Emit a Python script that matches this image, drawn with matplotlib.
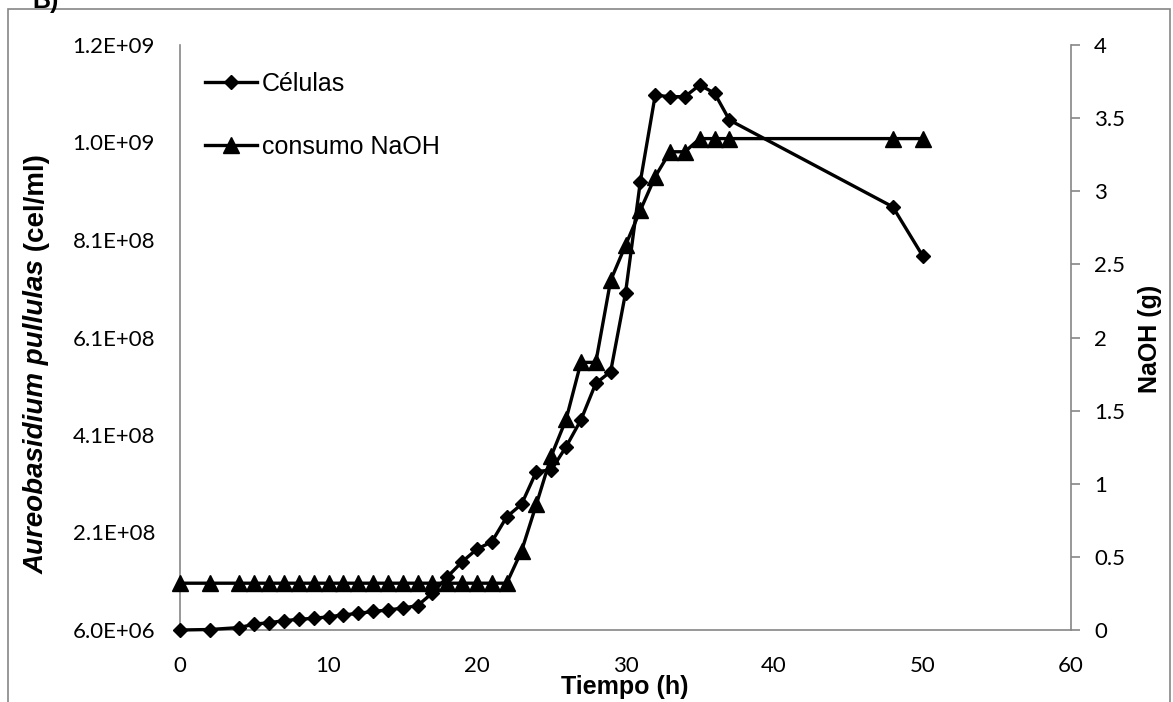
import matplotlib
matplotlib.use("Agg")
import matplotlib.pyplot as plt
from matplotlib.ticker import FixedLocator, FuncFormatter, MultipleLocator
from matplotlib.patches import Rectangle

W, H, DPI = 1173, 702, 100

# ---------------------------------------------------------------------------
# data
# ---------------------------------------------------------------------------
tiempo = [0, 2, 4, 5, 6, 7, 8, 9, 10, 11, 12, 13, 14, 15, 16, 17, 18, 19, 20,
          21, 22, 23, 24, 25, 26, 27, 28, 29, 30, 31, 32, 33, 34, 35, 36, 37,
          48, 50]
celulas = [6.0e6, 7.0e6, 1.1e7, 1.8e7, 2.1e7, 2.5e7, 2.8e7, 3.0e7, 3.3e7,
           3.7e7, 4.0e7, 4.4e7, 4.7e7, 5.1e7, 5.6e7, 8.2e7, 1.15e8, 1.46e8,
           1.72e8, 1.87e8, 2.38e8, 2.64e8, 3.31e8, 3.34e8, 3.82e8, 4.37e8,
           5.12e8, 5.36e8, 6.97e8, 9.26e8, 1.103e9, 1.100e9, 1.100e9,
           1.124e9, 1.107e9, 1.052e9, 8.74e8, 7.74e8]
naoh = [0.32, 0.32, 0.32, 0.32, 0.32, 0.32, 0.32, 0.32, 0.32, 0.32, 0.32,
        0.32, 0.32, 0.32, 0.32, 0.32, 0.32, 0.32, 0.32, 0.32, 0.32, 0.54,
        0.86, 1.19, 1.44, 1.83, 1.83, 2.39, 2.63, 2.87, 3.10, 3.27, 3.27,
        3.36, 3.36, 3.36, 3.36, 3.36]

left_ticks = [6.0e6, 2.06e8, 4.06e8, 6.06e8, 8.06e8, 1.006e9, 1.206e9]
x_ticks = [0, 10, 20, 30, 40, 50, 60]

GRAY = "#868686"
TICK_FONT = "Lato"
TXT_FONT = "Liberation Sans"

# ---------------------------------------------------------------------------
# figure / axes in pixel layout
# ---------------------------------------------------------------------------
fig = plt.figure(figsize=(W / DPI, H / DPI), dpi=DPI)
x0, x1, y0, y1 = 180, 1071, 45, 630
ax = fig.add_axes([x0 / W, 1 - y1 / H, (x1 - x0) / W, (y1 - y0) / H])
ax2 = ax.twinx()

# outer chart border (bottom edge lies outside the picture)
fig.patches.append(Rectangle((8 / W, -0.05), (1170 - 8) / W, 1 - 9 / H + 0.05,
                             transform=fig.transFigure, fill=False,
                             edgecolor=GRAY, lw=1.2))
# panel letter, mostly cropped away in the original
fig.text(32 / W, 1 - 8 / H, "B)", fontsize=18, fontweight="bold",
         family=TXT_FONT, va="baseline", ha="left")

l1, = ax.plot(tiempo, celulas, color="black", lw=2.4, marker="D", ms=7.5,
              clip_on=False, zorder=3, label="Células")
l2, = ax2.plot(tiempo, naoh, color="black", lw=2.4, marker="^", ms=11,
               clip_on=False, zorder=3, label="consumo NaOH")

ax.set_xlim(0, 60)
ax.set_ylim(left_ticks[0], left_ticks[-1])
ax2.set_ylim(0, 4)
ax.xaxis.set_major_locator(FixedLocator(x_ticks))
ax.yaxis.set_major_locator(FixedLocator(left_ticks))
ax.yaxis.set_major_formatter(FuncFormatter(lambda v, p: f"{v:.1E}"))
ax2.yaxis.set_major_locator(MultipleLocator(0.5))
ax2.yaxis.set_major_formatter(FuncFormatter(lambda v, p: f"{v:g}"))

for a in (ax, ax2):
    a.spines["top"].set_visible(False)
    for s in ("left", "right", "bottom"):
        a.spines[s].set_color(GRAY)
        a.spines[s].set_linewidth(1.2)
ax.spines["right"].set_visible(False)
ax2.spines["left"].set_visible(False)
ax2.spines["bottom"].set_visible(False)

ax.tick_params(axis="x", length=0, pad=19, labelsize=16)
ax.tick_params(axis="y", length=0, pad=18, labelsize=16)
ax2.tick_params(axis="y", direction="out", length=6.5, width=1.2, color=GRAY,
                pad=10, labelsize=16)
for lab in ax.get_xticklabels() + ax.get_yticklabels() + ax2.get_yticklabels():
    lab.set_family(TICK_FONT)

# axis titles
fig.text(625 / W, 1 - 699 / H, "Tiempo (h)", fontsize=18, fontweight="bold",
         family=TXT_FONT, ha="center", va="bottom")

# left y label: italic bold species + bold units
t1 = fig.text(37 / W, 1 - 574 / H, "Aureobasidium pullulas", rotation=90,
              fontsize=20, fontweight="bold", style="italic", family=TXT_FONT,
              ha="center", va="bottom")
ax.annotate(" (cel/ml)", xy=(0.5, 1.0), xycoords=t1, rotation=90,
            fontsize=20, fontweight="bold", family=TXT_FONT,
            ha="center", va="bottom", annotation_clip=False)

fig.text(1150 / W, 1 - 339 / H, "NaOH (g)", rotation=90, fontsize=18,
         fontweight="bold", family=TXT_FONT, ha="center", va="center")

ax2.legend([l1, l2], ["Células", "consumo NaOH"], loc="upper left",
           bbox_to_anchor=(205 / W, 1 - 72 / H), bbox_transform=fig.transFigure,
           frameon=False, borderaxespad=0, borderpad=0, handlelength=2.08,
           handletextpad=0.2, labelspacing=1.55,
           prop={"family": TXT_FONT, "size": 18})

fig.savefig("out.png", dpi=DPI)
